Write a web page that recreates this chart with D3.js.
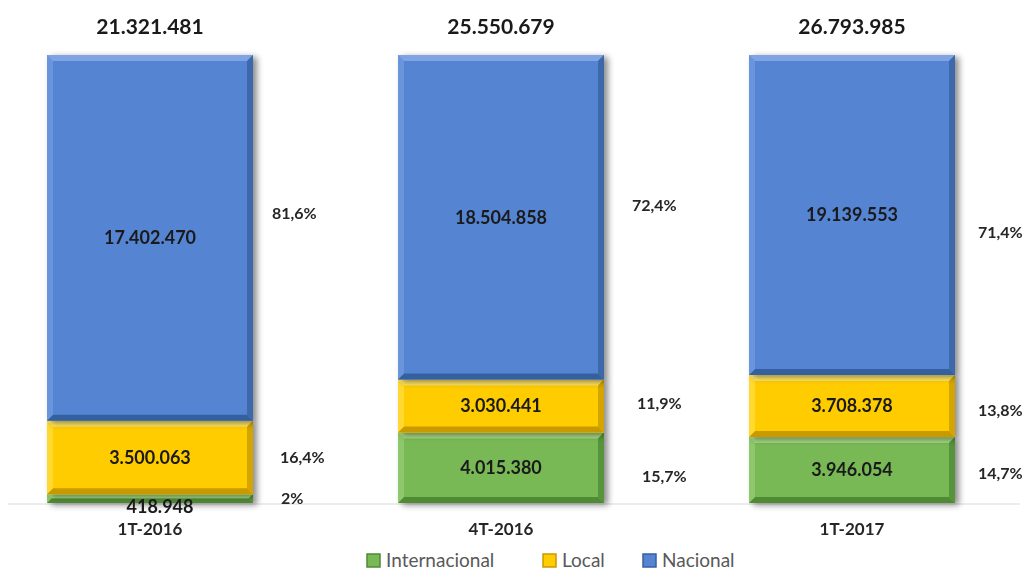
<!DOCTYPE html>
<meta charset="utf-8">
<style>
body { margin: 0; background: #fff; }
text { font-family: Lato, "Open Sans", sans-serif; }
.total { font-size: 21px; font-weight: bold; fill: #1a1a1a; }
.val { font-size: 18px; font-weight: bold; fill: #1a1a1a; }
.pct { font-size: 16px; font-weight: bold; fill: #262626; }
.cat { font-size: 17px; font-weight: bold; fill: #262626; }
.legend text { font-size: 19px; fill: #595959; }
</style>
<body>
<div id="chart"></div>
<script src="https://cdnjs.cloudflare.com/ajax/libs/d3/7.8.5/d3.min.js"></script>
<script>
var categories = ["1T-2016", "4T-2016", "1T-2017"];
var totals = [21321481, 25550679, 26793985];
var internacional = [418948, 4015380, 3946054];
var local = [3500063, 3030441, 3708378];
var nacional = [17402470, 18504858, 19139553];
var pctInternacional = ["2%", "15,7%", "14,7%"];
var pctLocal = ["16,4%", "11,9%", "13,8%"];
var pctNacional = ["81,6%", "72,4%", "71,4%"];
var seriesNames = ["Internacional", "Local", "Nacional"];

// hand nudges for the % labels (the original has them dragged around a bit)
var pctNudge = [[0, 0, -24], [9, -3, -12], [3, 4, 17]];
var pctShiftX = [[28, 27, 19], [38, 33, 28], [23, 23, 23]];

var width = 1024, height = 571;
var colors = ["#78b955", "#ffcc00", "#5584d3"];
var dark = ["#4f8a34", "#c99a00", "#36609f"];
var light = ["#a3d684", "#ffe566", "#7fa3e3"];

var locale = d3.formatLocale({decimal: ",", thousands: ".", grouping: [3], currency: ["", ""]});
var fmt = locale.format(",d");

var svg = d3.select("#chart").append("svg")
    .attr("width", width)
    .attr("height", height);

var defs = svg.append("defs");
defs.append("filter").attr("id", "shadow")
    .attr("x", "-10%").attr("y", "-10%").attr("width", "130%").attr("height", "130%")
  .append("feDropShadow")
    .attr("dx", 4).attr("dy", 2).attr("stdDeviation", 3)
    .attr("flood-color", "#000").attr("flood-opacity", 0.45);

var x = d3.scaleBand()
    .domain(categories)
    .range([47, 955])
    .paddingInner(145 / 351)
    .paddingOuter(0);

var y = d3.scaleLinear()
    .domain([0, 100])
    .range([503, 55]);

var rows = categories.map(function(c, i) {
  return {cat: c, Internacional: internacional[i] / totals[i] * 100,
          Local: local[i] / totals[i] * 100, Nacional: nacional[i] / totals[i] * 100};
});
var stacked = d3.stack().keys(seriesNames)(rows);
var rawVals = [internacional, local, nacional];
var pctVals = [pctInternacional, pctLocal, pctNacional];

// baseline
svg.append("line")
    .attr("x1", 8).attr("x2", 1020)
    .attr("y1", y(0) + 1).attr("y2", y(0) + 1)
    .attr("stroke", "#d9d9d9").attr("stroke-width", 1);

// bevelled segments
stacked.forEach(function(layer, si) {
  var g = svg.append("g").attr("filter", "url(#shadow)");
  layer.forEach(function(d, i) {
    var x0 = x(categories[i]), w = x.bandwidth();
    var y0 = y(d[1]), y1 = y(d[0]), h = y1 - y0;
    var b = Math.min(6, h / 2);
    g.append("rect")
        .attr("x", x0).attr("y", y0).attr("width", w).attr("height", h)
        .attr("fill", colors[si]);
    g.append("path")
        .attr("d", "M" + x0 + "," + y0 + "H" + (x0 + w) + "L" + (x0 + w - b) + "," + (y0 + b) + "H" + (x0 + b) + "Z")
        .attr("fill", light[si]);
    g.append("path")
        .attr("d", "M" + x0 + "," + y1 + "H" + (x0 + w) + "L" + (x0 + w - b) + "," + (y1 - b) + "H" + (x0 + b) + "Z")
        .attr("fill", dark[si]);
    g.append("path")
        .attr("d", "M" + (x0 + w) + "," + y0 + "V" + y1 + "L" + (x0 + w - b) + "," + (y1 - b) + "V" + (y0 + b) + "Z")
        .attr("fill", dark[si]).attr("opacity", 0.8);
    g.append("path")
        .attr("d", "M" + x0 + "," + y0 + "V" + y1 + "L" + (x0 + b) + "," + (y1 - b) + "V" + (y0 + b) + "Z")
        .attr("fill", light[si]).attr("opacity", 0.5);
  });
});

// value + percent labels
stacked.forEach(function(layer, si) {
  layer.forEach(function(d, i) {
    var mid = (y(d[0]) + y(d[1])) / 2;
    var cx = x(categories[i]) + x.bandwidth() / 2;
    var small = y(d[0]) - y(d[1]) < 20;
    svg.append("text").attr("class", "val")
        .attr("x", cx + (small ? 10 : 0)).attr("y", mid + (small ? 8 : 0))
        .attr("dy", "0.35em").attr("text-anchor", "middle")
        .text(fmt(rawVals[si][i]));
    svg.append("text").attr("class", "pct")
        .attr("x", x(categories[i]) + x.bandwidth() + pctShiftX[i][si])
        .attr("y", mid + pctNudge[i][si])
        .attr("dy", "0.35em").attr("text-anchor", "start")
        .text(pctVals[si][i]);
  });
});

// totals above bars
svg.selectAll(".total").data(categories).enter().append("text")
    .attr("class", "total")
    .attr("x", function(d) { return x(d) + x.bandwidth() / 2; })
    .attr("y", 27).attr("dy", "0.35em").attr("text-anchor", "middle")
    .text(function(d, i) { return fmt(totals[i]); });

// category axis
var xAxis = svg.append("g")
    .attr("transform", "translate(0," + y(0) + ")")
    .call(d3.axisBottom(x).tickSize(0).tickPadding(20));
xAxis.select(".domain").remove();
xAxis.selectAll("text").attr("class", "cat").attr("font-family", null).attr("font-size", null).attr("fill", null);

// legend
var legendX = [367, 543, 643];
var lg = svg.append("g").attr("class", "legend");
seriesNames.forEach(function(n, i) {
  lg.append("rect")
      .attr("x", legendX[i]).attr("y", 554).attr("width", 13).attr("height", 13)
      .attr("fill", colors[i]).attr("stroke", dark[i]).attr("stroke-width", 1.5);
  lg.append("text")
      .attr("x", legendX[i] + 19).attr("y", 560).attr("dy", "0.35em")
      .text(n);
});
</script>
